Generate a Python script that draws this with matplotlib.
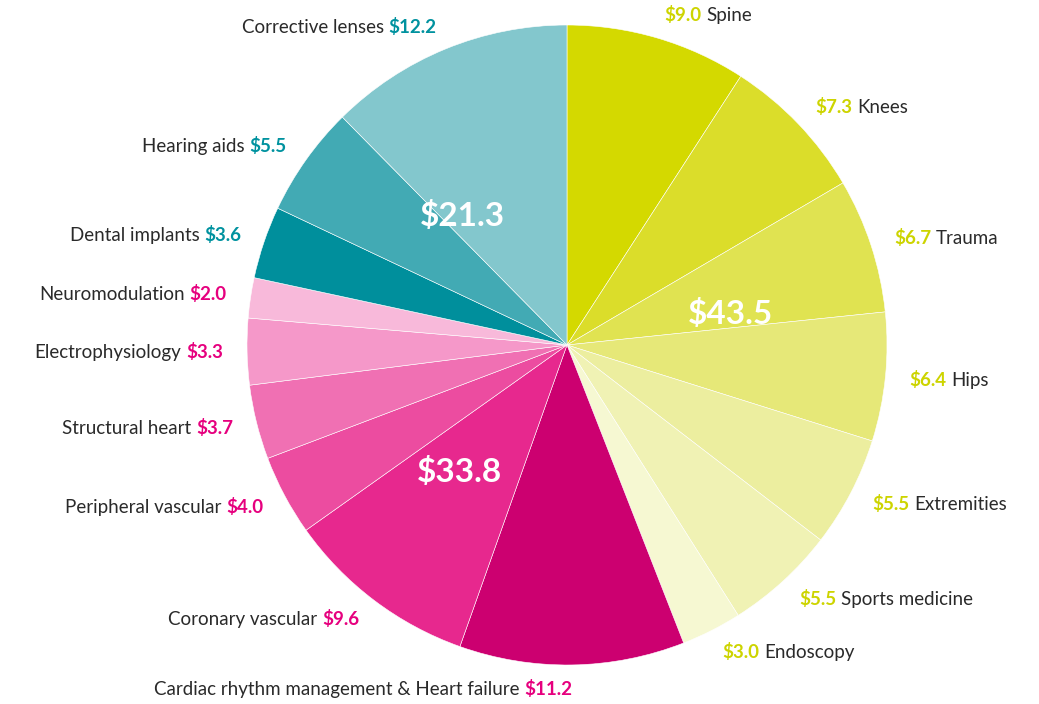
import matplotlib.pyplot as plt
import numpy as np

# ---------------------
# DATOS (sentido horario desde arriba)
# ---------------------
categorias = ['Spine', 'Knees', 'Trauma', 'Hips', 'Extremities', 'Sports medicine', 'Endoscopy',
              'Cardiac rhythm management & Heart failure', 'Coronary vascular', 'Peripheral vascular',
              'Structural heart', 'Electrophysiology', 'Neuromodulation',
              'Dental implants', 'Hearing aids', 'Corrective lenses']
valores = [9.0, 7.3, 6.7, 6.4, 5.5, 5.5, 3.0,
           11.2, 9.6, 4.0, 3.7, 3.3, 2.0,
           3.6, 5.5, 12.2]
grupo_tamanos = [7, 6, 3]
grupo_totales = [43.5, 33.8, 21.3]

colores = ['#D4D900', '#DBDD2A', '#E0E351', '#E6E878', '#ECEE9F', '#F0F2B4', '#F6F8D2',
           '#CC0070', '#E7288E', '#EC4CA0', '#F070B3', '#F598C9', '#F8B9DA',
           '#008F9C', '#42AAB4', '#83C7CD']
color_valor_grupo = ['#CDD400', '#E6007E', '#00929F']
gris = '#2a2a2a'

plt.rcParams['font.family'] = ['Lato', 'DejaVu Sans']

fig = plt.figure(figsize=(10.39, 7.04), dpi=100)
ax = fig.add_axes([0, 0, 1, 1])

cx, cy, R = 567, 359, 320
ax.pie(valores, colors=colores, startangle=90, counterclock=False,
       center=(cx, cy), radius=R,
       wedgeprops=dict(edgecolor='white', linewidth=0.4))
ax.set_xlim(0, 1039)
ax.set_ylim(0, 704)
ax.set_aspect('equal')
ax.axis('off')

# angulos medios de cada segmento (grados, sentido horario desde arriba)
total = sum(valores)
fin = np.cumsum(valores) / total * 360
inicio = fin - np.array(valores) / total * 360
medio = (inicio + fin) / 2

# etiquetas de cada segmento
idx = 0
for g, n in enumerate(grupo_tamanos):
    for k in range(n):
        i = idx + k
        th = np.radians(medio[i])
        r = R * 1.075
        x = cx + r * np.sin(th)
        y = cy + r * np.cos(th)
        txt_val = '$%.1f' % valores[i]
        if g == 0:
            t1 = ax.text(x, y, txt_val, ha='left', va='center', fontsize=13.5,
                         fontweight='bold', color=color_valor_grupo[g])
            ax.annotate(categorias[i], xy=(1, 0), xycoords=t1, xytext=(3.5, 0),
                        textcoords='offset points', ha='left', va='bottom',
                        fontsize=13.5, color=gris)
        else:
            t1 = ax.text(x, y, txt_val, ha='right', va='center', fontsize=13.5,
                         fontweight='bold', color=color_valor_grupo[g])
            ax.annotate(categorias[i], xy=(0, 0), xycoords=t1, xytext=(-3.5, 0),
                        textcoords='offset points', ha='right', va='bottom',
                        fontsize=13.5, color=gris)
    # total del grupo dentro del pastel
    a0 = inicio[idx]
    a1 = fin[idx + n - 1]
    th = np.radians((a0 + a1) / 2)
    ax.text(cx + R * 0.52 * np.sin(th), cy + R * 0.52 * np.cos(th),
            '$%.1f' % grupo_totales[g], ha='center', va='center',
            fontsize=24, fontweight='bold', color='white')
    idx += n

plt.savefig('out.png', dpi=100)
